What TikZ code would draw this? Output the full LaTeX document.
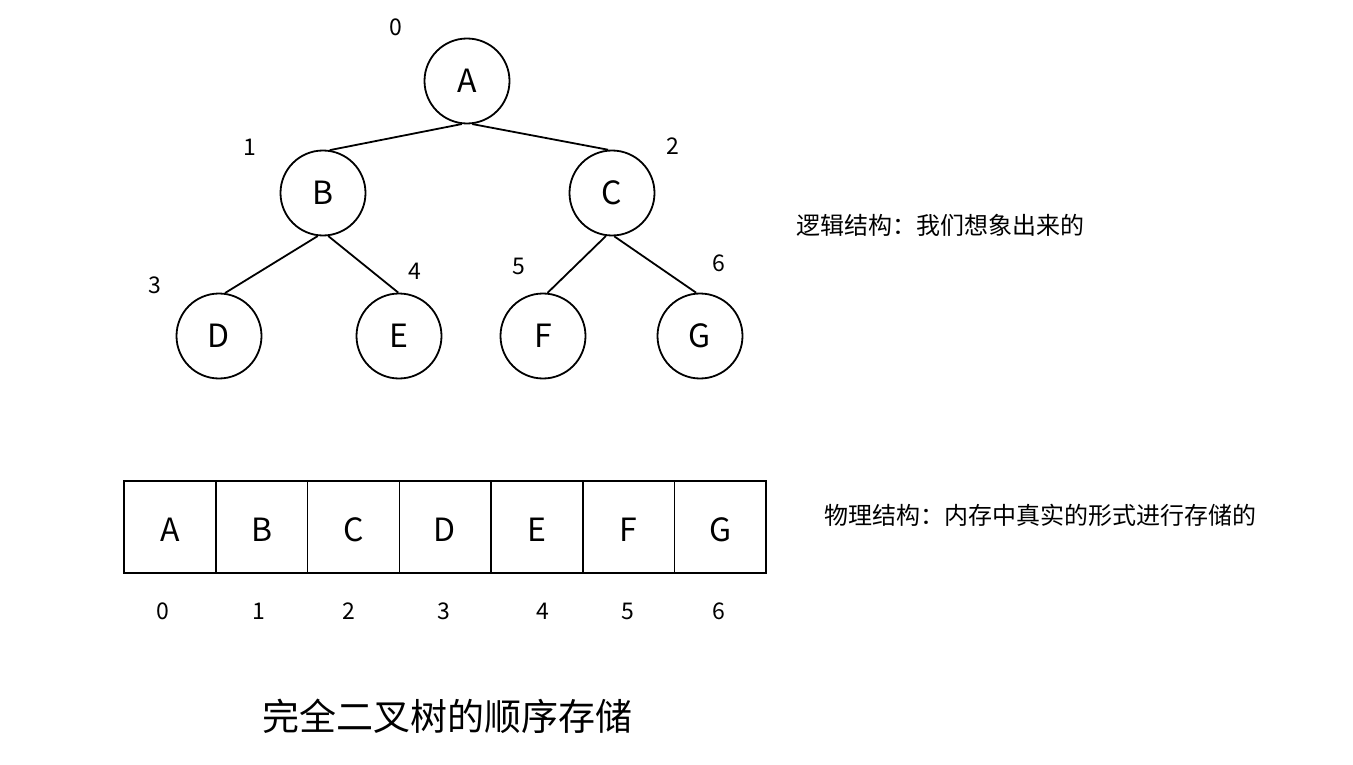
\documentclass[tikz,border=0pt]{standalone}
\usepackage{fontspec}
\setmainfont{Noto Sans CJK SC}
\begin{document}
\begin{tikzpicture}[x=1pt,y=-1pt,
  tn/.style={circle,draw,line width=1.8pt,minimum size=85pt,inner sep=0pt,font=\fontsize{32}{38}\selectfont},
  edge/.style={line width=1.8pt},
  cell/.style={rectangle,minimum width=91.7pt,minimum height=92pt,inner sep=0pt,text height=29pt,text depth=0pt,font=\fontsize{32}{38}\selectfont},
  grid/.style={line width=1.6pt},
  idx/.style={font=\fontsize{23}{28}\selectfont,inner sep=0pt},
  note/.style={font=\fontsize{24}{30}\selectfont,inner sep=0pt,anchor=west}]
\useasboundingbox (0,0) rectangle (1353,765);
% tree
\node[tn] (A) at (467,81) {A};
\node[tn] (B) at (323,193) {B};
\node[tn] (C) at (612,193) {C};
\node[tn] (D) at (219,336) {D};
\node[tn] (E) at (399,336) {E};
\node[tn] (F) at (543,336) {F};
\node[tn] (G) at (700,336) {G};
\draw[edge] (A.-97) -- (B.81);
\draw[edge] (A.-83) -- (C.95);
\draw[edge] (B.-97) -- (D.82);
\draw[edge] (B.-83) -- (E.91);
\draw[edge] (C.-98) -- (F.84);
\draw[edge] (C.-87) -- (G.95);
% tree indices
\node[idx] (n0) at (396,27) {0};
\node[idx] (n1) at (250,147) {1};
\node[idx] (n2) at (673,146) {2};
\node[idx] (n3) at (155,285) {3};
\node[idx] (n4) at (415,271) {4};
\node[idx] (n5) at (519,266) {5};
\node[idx] (n6) at (719,263) {6};
% array
\foreach \L [count=\i from 0] in {A,B,C,D,E,F,G} {
  \node[cell] (c\i) at ({124+91.7*(\i+0.5)},527) {\L};
}
\draw[grid] (c0.north west) rectangle (c6.south east);
\foreach \i in {0,...,5} {
  \draw[grid] (c\i.north east) -- (c\i.south east);
}
\foreach \x [count=\i from 0] in {163,259,349,444,543,628,719} {
  \node[idx] (a\i) at (\x,611) {\i};
}
% notes
\node[note] (logic) at (796,225) {逻辑结构：我们想象出来的};
\node[note] (phys) at (824,515) {物理结构：内存中真实的形式进行存储的};
\node[font=\fontsize{37}{44}\selectfont,inner sep=0pt] (title) at (447,716) {完全二叉树的顺序存储};
\end{tikzpicture}
\end{document}
